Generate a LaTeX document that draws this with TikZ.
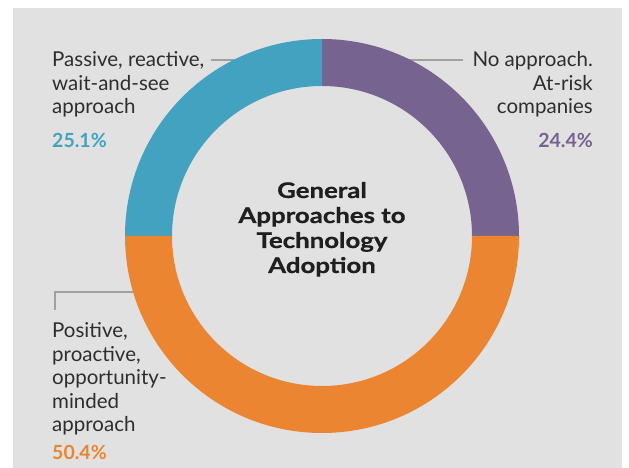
\documentclass[tikz,border=0pt]{standalone}
\usepackage{fontspec}
\setmainfont{Lato}
\newfontfamily\titlefont{Lato}[FakeStretch=1.2, FakeBold=0.8]
\definecolor{bggray}{HTML}{E1E1E1}
\definecolor{teal1}{HTML}{42A2BF}
\definecolor{purple1}{HTML}{77638F}
\definecolor{orange1}{HTML}{EC8532}
\definecolor{txt}{HTML}{2E2E2E}
\definecolor{leader}{HTML}{A0A0A0}
\begin{document}
\begin{tikzpicture}[x=1pt,y=1pt,
  lbl/.style={font=\fontsize{20.5}{23.5}\selectfont, text=txt, inner sep=0pt},
  pct/.style={font=\fontsize{19.5}{20}\selectfont\bfseries, inner sep=0pt},
  ttl/.style={font=\titlefont\fontsize{21.5}{25}\selectfont\bfseries, text=black!88, align=center, inner sep=0pt},
  leaderline/.style={draw=leader, line width=1.4pt}]
\useasboundingbox (0,0) rectangle (629,468);
\fill[white] (0,0) rectangle (629,468);
\fill[bggray] (13,0) rectangle (622,460);
% leader lines
\coordinate (c) at (322,232);
\coordinate (tA) at (211,408);
\coordinate (tB) at (236,408);
\coordinate (pA) at (463,408);
\coordinate (pB) at (408,408);
\coordinate (oA) at (55,158);
\coordinate (oK) at (55,176);
\coordinate (oB) at (136,176);
\draw[leaderline] (tA) -- (tB);
\draw[leaderline] (pA) -- (pB);
\draw[leaderline] (oA) -- (oK) -- (oB);
% ring
\fill[purple1] (322,429) arc (90:0:197) -- (472,232) arc (0:90:150) -- cycle;
\fill[teal1] (322,429) arc (90:180:197) -- (172,232) arc (180:90:150) -- cycle;
\fill[orange1] (125,232) arc (180:360:197) -- (472,232) arc (360:180:150) -- cycle;
% labels
\node[lbl, anchor=base west, align=left] (tl) at (52,354) {Passive, reactive,\\wait-and-see\\approach};
\node[pct, text=teal1, anchor=base west] (tp) at (52,320) {25.1\%};
\node[lbl, anchor=base east, align=right] (pl) at (593,354) {No approach.\\At-risk\\companies};
\node[pct, text=purple1, anchor=base east] (pp) at (593,320) {24.4\%};
\node[lbl, anchor=base west, align=left] (ol) at (52,36) {Positive,\\proactive,\\opportunity-\\minded\\approach};
\node[pct, text=orange1, anchor=base west] (op) at (52,8) {50.4\%};
\node[ttl, anchor=base] (title) at (322,195) {General\\Approaches to\\Technology\\Adoption};
\end{tikzpicture}
\end{document}
